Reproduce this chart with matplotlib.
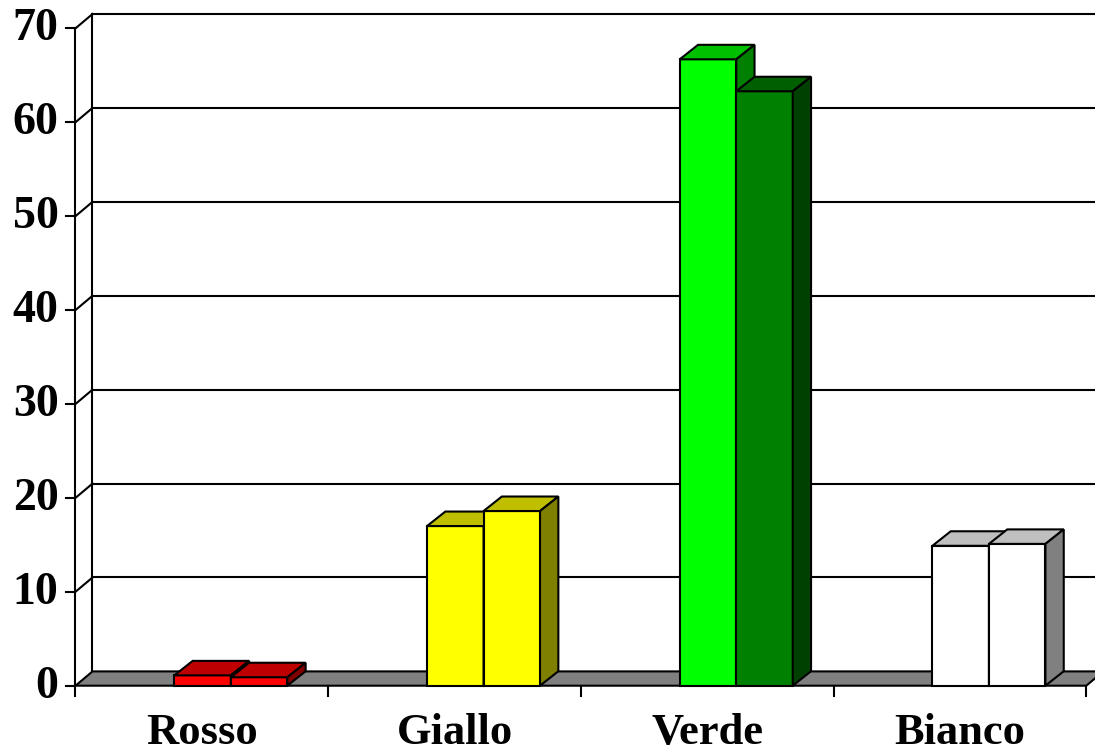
import matplotlib
matplotlib.use('Agg')
import matplotlib.pyplot as plt
from matplotlib.patches import Polygon
from matplotlib.colors import to_rgb

categories = ['Rosso', 'Giallo', 'Verde', 'Bianco']
series_a = [1.1, 17.0, 66.7, 14.9]
series_b = [0.9, 18.6, 63.3, 15.1]
colors_a = ['#FF0000', '#FFFF00', '#00FF00', '#FFFFFF']
colors_b = ['#FF0000', '#FFFF00', '#008000', '#FFFFFF']
y_ticks = [0, 10, 20, 30, 40, 50, 60, 70]

# pixel mapping
X0, XS = 75.5, 252.7
Y0, YS = 685.7, 9.391
W, H = 1095, 755

fig = plt.figure(figsize=(W / 100, H / 100), dpi=100)
ax = fig.add_axes([0, 0, 1, 1])
ax.set_xlim(-X0 / XS, (W - X0) / XS)
ax.set_ylim((Y0 - H) / YS, Y0 / YS)
ax.axis('off')

DX_W, DY_W = 17.0 / XS, 14.3 / YS   # wall depth
DX_B, DY_B = 18.3 / XS, 14.5 / YS   # bar depth
LW = 1.5
n = len(categories)
ymax = y_ticks[-1]
FONT = dict(fontsize=33, fontweight='bold', family='Liberation Serif')

def shade(c, f):
    r, g, b = to_rgb(c)
    return (r * f, g * f, b * f)

# back wall gridlines
for t in y_ticks[1:]:
    ax.plot([DX_W, n + 0.5], [t + DY_W, t + DY_W], color='black', lw=LW, zorder=1)
    ax.plot([0, DX_W], [t, t + DY_W], color='black', lw=LW, zorder=1)
# back wall left edge
ax.plot([DX_W, DX_W], [DY_W, ymax + DY_W], color='black', lw=LW, zorder=1)
# front left axis
ax.plot([0, 0], [0, ymax], color='black', lw=LW, zorder=6)
for t in y_ticks:
    ax.plot([-9.5 / XS, 0], [t, t], color='black', lw=LW, zorder=6)
    ax.text(-17 / XS, t - 0.1, str(t), ha='right', va='center', **FONT)

# floor
floor = Polygon([(0, 0), (n, 0), (n + DX_W, DY_W), (DX_W, DY_W)],
                closed=True, facecolor='#808080', edgecolor='black', lw=LW, zorder=2)
ax.add_patch(floor)

# category ticks & labels
for k in range(n + 1):
    ax.plot([k, k], [0, -10 / YS], color='black', lw=LW, zorder=6)
for i, c in enumerate(categories):
    ax.text(i + 0.5, (Y0 - 744) / YS, c, ha='center', va='baseline',
            fontsize=32, fontweight='bold', family='Liberation Serif')

# bars
BW = 56.5 / XS
OFF = 29.0 / XS
z = 10
for i in range(n):
    for j, (vals, cols) in enumerate([(series_a, colors_a), (series_b, colors_b)]):
        v = vals[i]
        col = cols[i]
        xl = i + 0.5 + OFF - BW + j * BW
        ax.bar(xl, v, width=BW, align='edge', color=col, edgecolor='black',
               lw=LW, zorder=z)
        top = Polygon([(xl, v), (xl + BW, v), (xl + BW + DX_B, v + DY_B), (xl + DX_B, v + DY_B)],
                      closed=True, facecolor=shade(col, 0.75), edgecolor='black', lw=LW, zorder=z)
        side = Polygon([(xl + BW, 0), (xl + BW + DX_B, DY_B), (xl + BW + DX_B, v + DY_B), (xl + BW, v)],
                       closed=True, facecolor=shade(col, 0.5), edgecolor='black', lw=LW, zorder=z)
        ax.add_patch(top)
        ax.add_patch(side)
        z += 1

fig.savefig('out.png', dpi=100)
